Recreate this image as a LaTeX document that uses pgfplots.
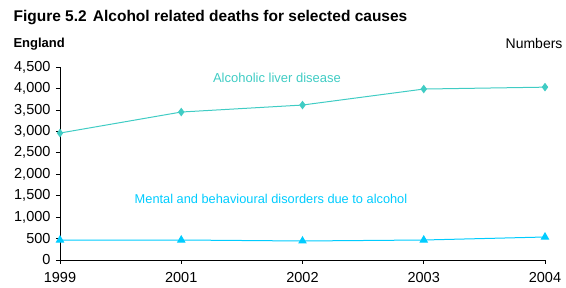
\documentclass[border=0pt]{standalone}
\usepackage{pgfplots}
\pgfplotsset{compat=1.18}
\usepackage{fontspec}
\setmainfont{Liberation Sans}
\definecolor{liver}{RGB}{64,204,196}
\definecolor{mental}{RGB}{0,204,255}
\begin{document}
\begin{tikzpicture}
\useasboundingbox (-60pt,-28pt) rectangle (506pt,260pt);
\begin{axis}[
  scale only axis, width=485pt, height=193pt,
  xmin=0, xmax=4, ymin=0, ymax=4500,
  axis x line*=bottom, axis y line*=left,
  axis line style={black, line width=0.6pt},
  xtick={0,1,2,3,4}, xticklabels={1999,2001,2002,2003,2004},
  ytick={0,500,...,4500},
  tick align=outside, major tick length=4pt,
  tick style={black, line width=0.6pt},
  /pgf/number format/assume math mode=true,
  /pgf/number format/1000 sep={,},
  ticklabel style={font=\fontsize{14.5}{16}\selectfont},
  xticklabel style={yshift=-5pt},
  yticklabel style={xshift=-2pt},
  clip=false,
]
\addplot[liver, line width=1pt, mark=diamond*, mark size=3.5pt, mark options={solid, fill=liver}]
  coordinates {(0,2960) (1,3450) (2,3613) (3,3986) (4,4030)};
\addplot[mental, line width=1pt, mark=triangle*, mark size=4pt, mark options={solid, fill=mental}]
  coordinates {(0,466) (1,466) (2,443) (3,466) (4,536)};
\end{axis}
\node[anchor=west, font=\fontsize{15.5}{18}\bfseries\selectfont] at (-50pt,242pt) {Figure 5.2\hspace{0.4em}Alcohol related deaths for selected causes};
\node[anchor=west, font=\fontsize{13}{15}\bfseries\selectfont] at (-50pt,216pt) {England};
\node[anchor=east, font=\fontsize{14}{16}\selectfont] at (506pt,216pt) {Numbers};
\node[text=liver, font=\fontsize{13}{15}\selectfont] at (217pt,182pt) {Alcoholic liver disease};
\node[text=mental, font=\fontsize{12.8}{15}\selectfont] at (211pt,61pt) {Mental and behavioural disorders due to alcohol};
\end{tikzpicture}
\end{document}
